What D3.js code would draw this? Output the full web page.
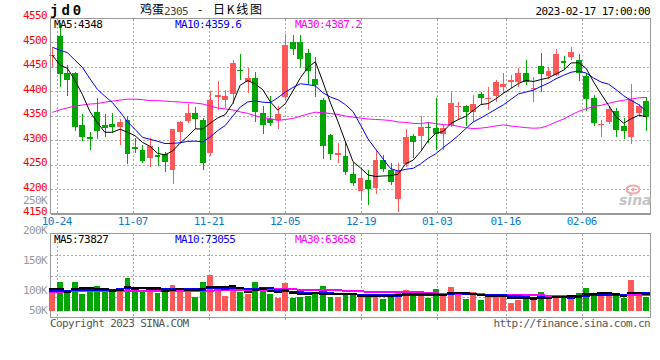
<!DOCTYPE html>
<html><head><meta charset="utf-8">
<script src="https://cdn.jsdelivr.net/npm/d3@7/dist/d3.min.js"></script>
<style>body{margin:0;background:#fff}svg{display:block}</style>
</head><body><svg id="c" width="660" height="360"></svg>
<script>
// ---------- data ----------
const dates = ["10-21",
"10-24","10-25","10-26","10-27","10-28","10-31","11-01","11-02","11-03","11-04",
"11-07","11-08","11-09","11-10","11-11","11-14","11-15","11-16","11-17","11-18",
"11-21","11-22","11-23","11-24","11-25","11-28","11-29","11-30","12-01","12-02",
"12-05","12-06","12-07","12-08","12-09","12-12","12-13","12-14","12-15","12-16",
"12-19","12-20","12-21","12-22","12-23","12-26","12-27","12-28","12-29","12-30",
"01-03","01-04","01-05","01-06","01-09","01-10","01-11","01-12","01-13",
"01-16","01-17","01-18","01-19","01-20","01-30","01-31","02-01","02-02","02-03",
"02-06","02-07","02-08","02-09","02-10","02-13","02-14","02-15","02-16","02-17"];
const open  = [4473,4512,4437,4437,4331,4307,4358,4332,4334,4328,4341,4287,4280,4264,4270,4272,4240,4317,4340,4356,
4341,4275,4389,4382,4394,4443,4418,4428,4355,4343,4341,4388,4500,4500,4478,4425,4382,4311,4270,4268,
4232,4197,4219,4203,4260,4239,4180,4251,4309,4309,4328,4326,4313,4331,4368,4370,4358,4394,4385,4391,
4409,4418,4420,4437,4405,4452,4432,4433,4462,4469,4463,4431,4386,4332,4338,4360,4330,4307,4355,4380];
const high  = [4488,4540,4454,4440,4354,4316,4386,4354,4355,4343,4349,4304,4290,4304,4287,4277,4323,4340,4375,4367,
4346,4401,4422,4403,4464,4476,4448,4439,4371,4391,4370,4516,4515,4514,4486,4471,4387,4313,4294,4296,
4256,4243,4239,4279,4269,4253,4253,4324,4313,4349,4337,4387,4333,4401,4379,4372,4392,4399,4409,4424,
4437,4433,4448,4464,4430,4479,4450,4486,4473,4490,4476,4437,4392,4341,4370,4365,4345,4415,4375,4389];
const low   = [4447,4409,4391,4320,4298,4281,4303,4307,4314,4291,4251,4275,4254,4245,4247,4236,4210,4294,4336,4324,
4240,4268,4362,4365,4374,4423,4396,4338,4313,4329,4324,4382,4474,4448,4415,4389,4261,4260,4253,4229,
4206,4178,4167,4190,4236,4209,4154,4246,4263,4280,4295,4281,4281,4328,4341,4329,4337,4375,4362,4379,
4397,4406,4409,4413,4379,4399,4426,4431,4445,4464,4422,4360,4330,4307,4333,4306,4303,4292,4347,4320];
const close = [4475,4435,4423,4328,4307,4302,4319,4326,4328,4338,4272,4283,4258,4288,4266,4256,4323,4338,4356,4344,
4254,4382,4392,4390,4458,4441,4428,4358,4331,4336,4354,4495,4486,4466,4442,4413,4288,4272,4275,4236,
4212,4223,4200,4260,4241,4215,4238,4307,4297,4328,4326,4313,4326,4377,4370,4358,4374,4386,4387,4418,
4415,4423,4437,4418,4407,4435,4441,4476,4457,4480,4438,4384,4336,4334,4364,4322,4318,4382,4370,4348];
const volume = [73500,119100,80100,119100,69300,83000,102500,83000,80100,80100,
135700,87200,83000,83000,73500,83000,107900,94200,77600,56900,
119100,149400,96700,62300,91300,77600,69300,119100,83000,69300,
52700,115000,52700,56900,59300,73500,100800,56900,56900,63500,
63500,56900,62300,63500,48600,66400,77600,85900,62300,59300,
52700,90100,59300,98400,63500,48600,77600,45700,59300,69300,
59300,32000,45700,52700,45700,77600,49800,63500,52700,63500,
73500,94200,69300,63500,63500,59300,52700,125700,63500,55200];
// moving-average values at the start of the window (prior data not shown)
const ma5Head  = [4474,4454,4447,4423];
const ma10Head = [4490,4484,4479,4464,4449,4426,4404,4390,4377];
const ma30Head = [4357,4362,4366,4370,4372,4374,4375,4378,4380,4382,4384,4384,4383,4381,4381,4380,4379,4378,4377,4376,
4374,4370,4366,4364,4362,4358,4355,4350,4346];
const volMa5Head  = [88600,90000,77500,88600];
const volMa10Head = [83000,83000,80200,84400,84400,84400,85800,84400,84400];
const volMa30Head = [77500,79000,79000,80200,80200,80200,80200,80200,80200,80200,80200,80200,80200,80200,80200,80200,80200,80200,80200,80200,
82000,83000,84300,84300,84300,84300,84300,84300,84300];
const priceTicks = [4550,4500,4450,4400,4350,4300,4250,4200,4150];
const volTicks = [250000,200000,150000,100000,50000];
const volTickLabels = ["250K","200K","150K","100K","50K"];
const dateTicks = ["10-24","11-07","11-21","12-05","12-19","01-03","01-16","02-06"];
const priceMaText = ["MA5:4348","MA10:4359.6","MA30:4387.2"];
const volMaText = ["MA5:73827","MA10:73055","MA30:63658"];

// ---------- setup ----------
const n = dates.length;
const L = 50.5, R = 650.5, pTop = 18.5, pBot = 213.5, vTop = 233.5, vBot = 317.5;
const RED = "#ff5858", GREEN = "#00a600";
const MONO = "'DejaVu Sans Mono', monospace";
const svg = d3.select("#c");

const x = d3.scaleBand().domain(d3.range(n)).range([48.5, 650]).paddingInner(0.22).paddingOuter(0.11);
const cx = i => x(i) + x.bandwidth() / 2;
const tickX = d3.scaleLinear().domain([0, n - 1]).range([49.1, 650.2]);
const y = d3.scaleLinear().domain([4150, 4550]).range([213.8, 17.8]);
const yv = d3.scaleLinear().domain([0, 318000]).range([310.7, 234.07]);
const volLabelY = d3.scaleLinear().domain([100000, 250000]).range([290.7, 200.7]);
const volLabelMax = 310.7;

function movingAvg(arr, w, head) {
  return arr.map((v, i) => i < w - 1 ? head[i] : d3.mean(arr.slice(i - w + 1, i + 1)));
}
const ma5 = movingAvg(close, 5, ma5Head), ma10 = movingAvg(close, 10, ma10Head), ma30 = movingAvg(close, 30, ma30Head);
const vma5 = movingAvg(volume, 5, volMa5Head), vma10 = movingAvg(volume, 10, volMa10Head), vma30 = movingAvg(volume, 30, volMa30Head);
const isUp = i => close[i] >= open[i];

// ---------- grid ----------
const grid = svg.append("g").attr("stroke", "#aaa").attr("stroke-dasharray", "2,2").attr("shape-rendering", "crispEdges");
priceTicks.slice(1, -1).forEach(p => grid.append("line").attr("x1", L).attr("x2", R).attr("y1", Math.round(y(p)) + 0.5).attr("y2", Math.round(y(p)) + 0.5));
[1, 2, 3].forEach(k => {
  const yy = Math.round(vTop + (vBot - vTop) * k / 4) + 0.5;
  grid.append("line").attr("x1", L).attr("x2", R).attr("y1", yy).attr("y2", yy);
});
dateTicks.forEach(d => {
  const xx = Math.round(tickX(dates.indexOf(d))) + 0.5;
  grid.append("line").attr("x1", xx).attr("x2", xx).attr("y1", pTop).attr("y2", pBot);
  grid.append("line").attr("x1", xx).attr("x2", xx).attr("y1", vTop).attr("y2", vBot + 3);
});

// frames
const frame = svg.append("g").attr("stroke", "#999").attr("fill", "none").attr("shape-rendering", "crispEdges");
frame.append("rect").attr("x", L).attr("y", pTop).attr("width", R - L).attr("height", pBot - pTop);
frame.append("line").attr("x1", L).attr("x2", R).attr("y1", pBot + 1).attr("y2", pBot + 1);
frame.append("rect").attr("x", L).attr("y", vTop).attr("width", R - L).attr("height", vBot - vTop);

// sina logo
const logo = svg.append("g");
logo.append("ellipse").attr("cx", 633).attr("cy", 189.5).attr("rx", 6.5).attr("ry", 4).attr("fill", "none").attr("stroke", "#f0a8a8").attr("stroke-width", 2);
logo.append("circle").attr("cx", 633).attr("cy", 189.5).attr("r", 1.8).attr("fill", "#f0a8a8");
logo.append("text").attr("x", 619).attr("y", 205).attr("font-family", "'DejaVu Sans', sans-serif").attr("font-size", 14)
  .attr("font-style", "italic").attr("font-weight", "bold").attr("fill", "#c4c4c4").text("sina");

// ---------- candles ----------
const cg = svg.append("g").attr("shape-rendering", "crispEdges");
d3.range(n).forEach(i => {
  const col = isUp(i) ? RED : GREEN;
  const wx = Math.round(cx(i)) + 0.5;
  cg.append("line").attr("x1", wx).attr("x2", wx).attr("y1", y(high[i])).attr("y2", y(low[i])).attr("stroke", col);
  const top = y(Math.max(open[i], close[i])), bot = y(Math.min(open[i], close[i]));
  cg.append("rect").attr("x", x(i)).attr("width", x.bandwidth()).attr("y", top).attr("height", Math.max(1, bot - top)).attr("fill", col);
});

// price MA lines
const line = d3.line().x((d, i) => cx(i)).y(d => y(d));
[[ma30, "#ff00ff"], [ma10, "#0000ff"], [ma5, "#000"]].forEach(([arr, c]) =>
  svg.append("path").attr("d", line(arr)).attr("fill", "none").attr("stroke", c).attr("stroke-width", 1));

// ---------- volume ----------
const vg = svg.append("g").attr("shape-rendering", "crispEdges");
d3.range(n).forEach(i => {
  vg.append("rect").attr("x", x(i)).attr("width", x.bandwidth()).attr("y", yv(volume[i])).attr("height", yv(0) - yv(volume[i]))
    .attr("fill", isUp(i) ? RED : GREEN);
});
const step = x.step();
[[vma30, "#ff00ff"], [vma10, "#0000ff"], [vma5, "#000"]].forEach(([arr, c]) => {
  const g = svg.append("g").attr("stroke", c).attr("stroke-width", 2).attr("shape-rendering", "crispEdges");
  arr.forEach((v, i) => g.append("line").attr("x1", cx(i) - step / 2).attr("x2", cx(i) + step / 2).attr("y1", yv(v)).attr("y2", yv(v)));
});

// ---------- texts ----------
function t(xx, yy, s, opts = {}) {
  return svg.append("text").attr("x", xx).attr("y", yy).attr("font-family", opts.font || MONO)
    .attr("font-size", opts.size || 11).attr("letter-spacing", opts.ls !== undefined ? opts.ls : "-0.6px")
    .attr("fill", opts.fill || "#000").attr("text-anchor", opts.anchor || "start")
    .attr("dominant-baseline", "middle").text(s);
}
priceTicks.forEach(p => t(47, y(p) - 1.5, p, { fill: "#ff0000", anchor: "end" }));
volTicks.forEach((v, k) => t(47, Math.min(volLabelY(v), volLabelMax), volTickLabels[k], { fill: "#999", anchor: "end" }));
dateTicks.forEach(d => t(tickX(dates.indexOf(d)), 221.5, d, { fill: "#0a7ad2", anchor: "middle" }));

const maX = [54, 175, 295], maCol = ["#000", "#0000ff", "#ff00ff"];
priceMaText.forEach((s, k) => t(maX[k], 24.5, s, { fill: maCol[k] }));
volMaText.forEach((s, k) => t(maX[k], 239.5, s, { fill: maCol[k] }));

t(50, 11.5, "jd0", { size: 14, ls: "3px", fill: "#000" }).attr("font-weight", "bold").attr("font-family", "'Liberation Mono', monospace");
t(140, 11, "鸡蛋", { font: "'Noto Sans CJK SC', sans-serif", size: 12, ls: 0 });
t(164, 11.5, "2305", { fill: "#444" });
t(200, 11, "-", { font: "'Noto Sans CJK SC', sans-serif", size: 12, ls: 0, anchor: "middle" });
t(213, 11, "日K线图", { font: "'Noto Sans CJK SC', sans-serif", size: 12, ls: 0 }).attr("textLength", 49).attr("lengthAdjust", "spacing");
t(650, 11.5, "2023-02-17 17:00:00", { anchor: "end" });
t(50, 324, "Copyright 2023 SINA.COM", { fill: "#555" });
t(650, 324, "http://finance.sina.com.cn", { fill: "#555", anchor: "end" });
</script></body></html>
